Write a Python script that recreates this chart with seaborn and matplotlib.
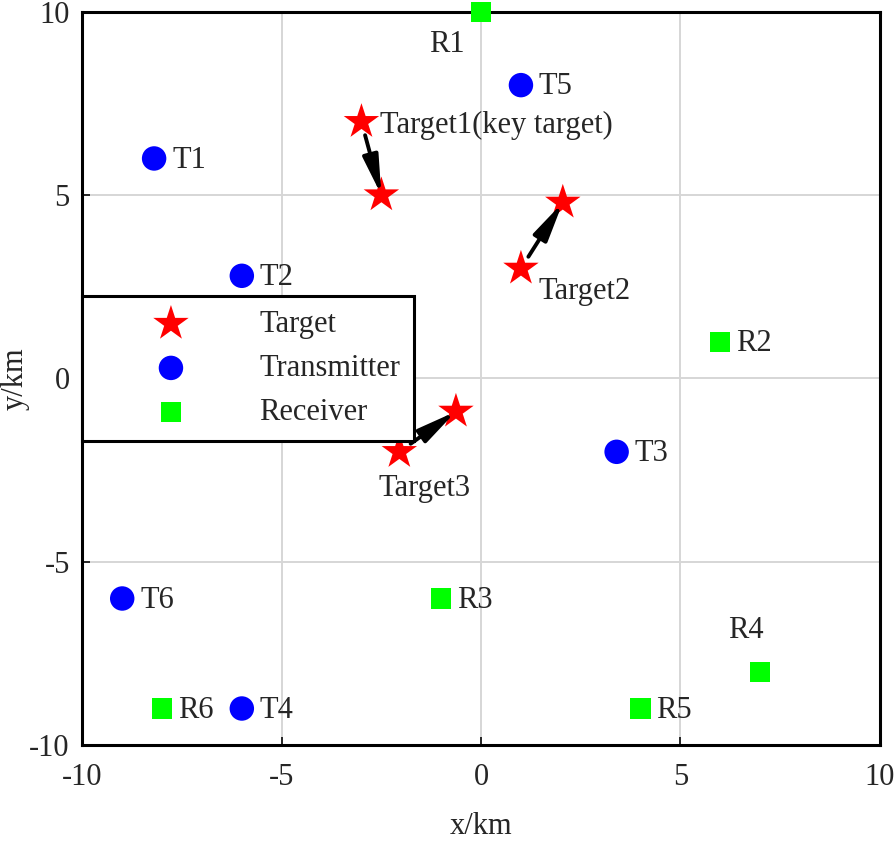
import pandas as pd
import matplotlib
matplotlib.use('Agg')
import matplotlib.pyplot as plt
import seaborn as sns

# transmitters
tx_names = ['T1', 'T2', 'T3', 'T4', 'T5', 'T6']
tx_x = [-8.2, -6, 3.4, -6, 1, -9]
tx_y = [6, 2.8, -2, -9, 8, -6]

# receivers
rx_names = ['R1', 'R2', 'R3', 'R4', 'R5', 'R6']
rx_x = [0, 6, -1, 7, 4, -8]
rx_y = [10, 1, -6, -8, -9, -9]

# targets: start and end positions
tg_names = ['Target1(key target)', 'Target2', 'Target3']
tg_x0 = [-3, 1, -2.05]
tg_y0 = [7, 3, -2]
tg_x1 = [-2.5, 2.05, -0.63]
tg_y1 = [5, 4.8, -0.9]

sns.set_style('white')
plt.rcParams['font.family'] = ['Liberation Serif', 'DejaVu Serif']
plt.rcParams['axes.unicode_minus'] = False

fig, ax = plt.subplots(figsize=(8.95, 8.42), dpi=100)
fig.subplots_adjust(left=0.092, right=0.983, top=0.986, bottom=0.115)

tg = pd.DataFrame({'x': tg_x0 + tg_x1, 'y': tg_y0 + tg_y1})
tx = pd.DataFrame({'x': tx_x, 'y': tx_y})
rx = pd.DataFrame({'x': rx_x, 'y': rx_y})

sns.scatterplot(data=tg, x='x', y='y', marker='*', s=720, color='red',
                edgecolor='none', ax=ax, label='Target', zorder=3, clip_on=False)
sns.scatterplot(data=tx, x='x', y='y', marker='o', s=310, color='blue',
                edgecolor='none', ax=ax, label='Transmitter', zorder=3, clip_on=False)
sns.scatterplot(data=rx, x='x', y='y', marker='s', s=210, color='#00ff00',
                edgecolor='none', ax=ax, label='Receiver', zorder=3, clip_on=False)

# motion arrows
for x0, y0, x1, y1 in zip(tg_x0, tg_y0, tg_x1, tg_y1):
    ax.annotate('', xy=(x1, y1), xytext=(x0, y0),
                arrowprops=dict(arrowstyle='-|>,head_length=0.9,head_width=0.18',
                                color='black', lw=2.8, mutation_scale=26,
                                shrinkA=10, shrinkB=0),
                zorder=4)

fs = 22
for n, x, y in zip(tx_names, tx_x, tx_y):
    ax.text(x + 0.45, y - 0.05, n, fontsize=fs, va='center', ha='left')

rx_off = {'R1': (-1.3, -0.9), 'R4': (-0.81, 1.14)}
for n, x, y in zip(rx_names, rx_x, rx_y):
    dx, dy = rx_off.get(n, (0.4, -0.05))
    ax.text(x + dx, y + dy, n, fontsize=fs, va='center', ha='left')

ax.text(tg_x0[0] + 0.47, tg_y0[0] - 0.1, tg_names[0], fontsize=fs, va='center', ha='left')
ax.text(tg_x0[1] + 0.43, tg_y0[1] - 0.62, tg_names[1], fontsize=fs, va='center', ha='left')
ax.text(tg_x0[2] - 0.53, tg_y0[2] - 1.0, tg_names[2], fontsize=fs, va='center', ha='left')

ax.set_xlim(-10, 10)
ax.set_ylim(-10, 10)
ax.set_xticks([-10, -5, 0, 5, 10])
ax.set_yticks([-10, -5, 0, 5, 10])
ax.grid(True, color='#d6d6d6', lw=1.4)
ax.set_axisbelow(True)
ax.tick_params(axis='x', pad=13)
ax.tick_params(direction='in', length=6, width=1.4, labelsize=fs,
               top=False, right=False, bottom=True, left=True)
ax.tick_params(axis='y', pad=9)
for s in ax.spines.values():
    s.set_linewidth(2.2)
    s.set_color('black')
ax.set_xlabel('x/km', fontsize=fs, labelpad=14)
ax.set_ylabel('y/km', fontsize=fs, labelpad=0)

leg = ax.legend(loc='upper left', bbox_to_anchor=(0.0, 0.6126), fontsize=fs,
                frameon=True, fancybox=False, edgecolor='black', framealpha=1,
                handletextpad=0.45, borderpad=0.45, labelspacing=0.5,
                handlelength=4.9, borderaxespad=0)
leg.get_frame().set_linewidth(2.2)

plt.savefig('out.png', dpi=100)
plt.close()
